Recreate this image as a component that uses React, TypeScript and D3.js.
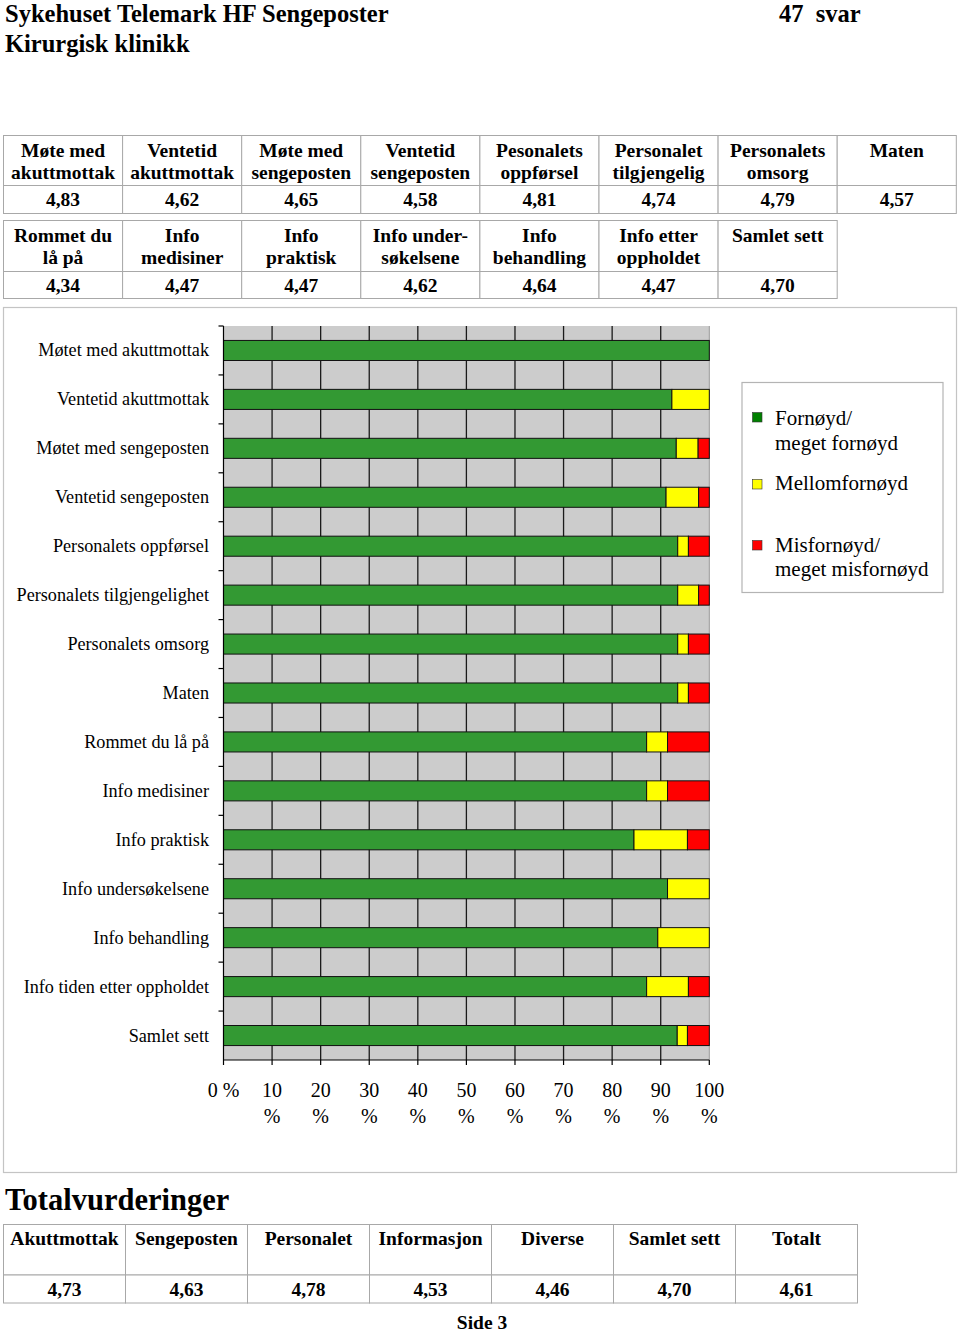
import React from "react";
import * as d3 from "d3";

const categories = [
  "Møtet med akuttmottak",
  "Ventetid akuttmottak",
  "Møtet med sengeposten",
  "Ventetid sengeposten",
  "Personalets oppførsel",
  "Personalets tilgjengelighet",
  "Personalets omsorg",
  "Maten",
  "Rommet du lå på",
  "Info medisiner",
  "Info praktisk",
  "Info undersøkelsene",
  "Info behandling",
  "Info tiden etter oppholdet",
  "Samlet sett",
];
const fornoyd = [100, 92.3, 93.2, 91.1, 93.5, 93.5, 93.5, 93.5, 87.1, 87.1, 84.5, 91.4, 89.4, 87.1, 93.4];
const mellom = [0, 7.7, 4.5, 6.7, 2.2, 4.3, 2.2, 2.2, 4.3, 4.3, 11.0, 8.6, 10.6, 8.6, 2.1];
const misfornoyd = [0, 0, 2.3, 2.2, 4.3, 2.2, 4.3, 4.3, 8.6, 8.6, 4.5, 0, 0, 4.3, 4.5];

const xTicks = [0, 10, 20, 30, 40, 50, 60, 70, 80, 90, 100];

const legendLabels = [["Fornøyd/", "meget fornøyd"], ["Mellomfornøyd"], ["Misfornøyd/", "meget misfornøyd"]];
const seriesColors = ["#339933", "#ffff00", "#ff0000"];
const legendColors = ["#008000", "#ffff00", "#ff0000"];

const table1Headers = [
  ["Møte med", "akuttmottak"],
  ["Ventetid", "akuttmottak"],
  ["Møte med", "sengeposten"],
  ["Ventetid", "sengeposten"],
  ["Pesonalets", "oppførsel"],
  ["Personalet", "tilgjengelig"],
  ["Personalets", "omsorg"],
  ["Maten"],
];
const table1Values = ["4,83", "4,62", "4,65", "4,58", "4,81", "4,74", "4,79", "4,57"];
const table2Headers = [
  ["Rommet du", "lå på"],
  ["Info", "medisiner"],
  ["Info", "praktisk"],
  ["Info under-", "søkelsene"],
  ["Info", "behandling"],
  ["Info etter", "oppholdet"],
  ["Samlet sett"],
];
const table2Values = ["4,34", "4,47", "4,47", "4,62", "4,64", "4,47", "4,70"];
const totalHeaders = ["Akuttmottak", "Sengeposten", "Personalet", "Informasjon", "Diverse", "Samlet sett", "Totalt"];
const totalValues = ["4,73", "4,63", "4,78", "4,53", "4,46", "4,70", "4,61"];

const SERIF = "'Liberation Serif', 'Times New Roman', serif";

function Table({ x0, colW, y0, headH, valH, headers, values, headBase, lineGap, valBase, border }: any) {
  return (
    <g>
      {headers.map((h: string[], i: number) => {
        const x = x0 + i * colW;
        return (
          <g key={i}>
            <rect x={x} y={y0} width={colW} height={headH} fill="#fff" stroke={border} strokeWidth={1} />
            <rect x={x} y={y0 + headH} width={colW} height={valH} fill="#fff" stroke={border} strokeWidth={1} />
            {h.map((line, j) => (
              <text key={j} x={x + colW / 2} y={y0 + headBase + j * lineGap} textAnchor="middle"
                fontFamily={SERIF} fontWeight="bold" fontSize={19.5}>{line}</text>
            ))}
            <text x={x + colW / 2} y={y0 + headH + valBase} textAnchor="middle"
              fontFamily={SERIF} fontWeight="bold" fontSize={19.5}>{values[i]}</text>
          </g>
        );
      })}
    </g>
  );
}

export default function App() {
  const plotLeft = 223.5, plotRight = 709.3, plotTop = 326, plotBottom = 1060;
  const x = d3.scaleLinear().domain([0, 100]).range([plotLeft, plotRight]);
  const y = d3.scaleBand<string>().domain(categories).range([plotTop, plotBottom]).paddingInner(0.59).paddingOuter(0.295);
  const step = y.step();
  const stack = d3.stack<any>().keys(["g", "y", "r"])(
    categories.map((c, i) => ({ c, g: fornoyd[i], y: mellom[i], r: misfornoyd[i] }))
  );

  return (
    <svg width={960} height={1334} style={{ position: "absolute", left: 0, top: 0, background: "#fff" }}>
      {/* Titles */}
      <text x={5} y={21.5} fontFamily={SERIF} fontWeight="bold" fontSize={24.5}>Sykehuset Telemark HF Sengeposter</text>
      <text x={779} y={21.5} fontFamily={SERIF} fontWeight="bold" fontSize={24.5} style={{ whiteSpace: "pre" }}>{"47  svar"}</text>
      <text x={5} y={52} fontFamily={SERIF} fontWeight="bold" fontSize={24.5}>Kirurgisk klinikk</text>

      {/* Top tables */}
      <Table x0={3.5} colW={119.1} y0={135.5} headH={50} valH={28} headers={table1Headers} values={table1Values}
        headBase={21.5} lineGap={22} valBase={20} border="#a8a8a8" />
      <Table x0={3.5} colW={119.1} y0={220.5} headH={51} valH={27} headers={table2Headers} values={table2Values}
        headBase={21.5} lineGap={22} valBase={20} border="#a8a8a8" />

      {/* Chart frame */}
      <rect x={3.5} y={307.5} width={953} height={865} fill="#fff" stroke="#c4c4c4" strokeWidth={1.2} />

      {/* Plot background */}
      <rect x={plotLeft} y={plotTop} width={plotRight - plotLeft} height={plotBottom - plotTop} fill="#cccccc" />
      <line x1={plotRight} x2={plotRight} y1={plotTop} y2={plotBottom} stroke="#999" strokeWidth={1} />
      {xTicks.slice(1, -1).map((t) => (
        <line key={t} x1={x(t)} x2={x(t)} y1={plotTop} y2={plotBottom} stroke="#1a1a1a" strokeWidth={1.3} />
      ))}

      {/* Bars */}
      {stack.map((s, si) => (
        <g key={si}>
          {s.map((d: any, i: number) => {
            const w = x(d[1]) - x(d[0]);
            if (w <= 0) return null;
            return (
              <rect key={i} x={x(d[0])} y={y(categories[i])!} width={w} height={y.bandwidth()}
                fill={seriesColors[si]} stroke="#111" strokeWidth={1} />
            );
          })}
        </g>
      ))}

      {/* Left axis */}
      <line x1={plotLeft} x2={plotLeft} y1={plotTop} y2={plotBottom} stroke="#000" strokeWidth={1.2} />
      {categories.map((c, i) => (
        <line key={"t" + i} x1={plotLeft - 5} x2={plotLeft} y1={plotTop + i * step} y2={plotTop + i * step} stroke="#000" strokeWidth={1.2} />
      ))}
      {categories.map((c) => (
        <text key={c} x={209} y={y(c)! + y.bandwidth() / 2 + 6} textAnchor="end" fontFamily={SERIF} fontSize={18.2}>{c}</text>
      ))}

      {/* Bottom axis */}
      <line x1={plotLeft} x2={plotRight} y1={plotBottom} y2={plotBottom} stroke="#000" strokeWidth={1.2} />
      {xTicks.map((t) => (
        <g key={t}>
          <line x1={x(t)} x2={x(t)} y1={plotBottom} y2={plotBottom + 5} stroke="#000" strokeWidth={1.2} />
          {t === 0 ? (
            <text x={x(t)} y={1097} textAnchor="middle" fontFamily={SERIF} fontSize={20}>0 %</text>
          ) : (
            <>
              <text x={x(t)} y={1097} textAnchor="middle" fontFamily={SERIF} fontSize={20}>{t}</text>
              <text x={x(t)} y={1123} textAnchor="middle" fontFamily={SERIF} fontSize={20}>%</text>
            </>
          )}
        </g>
      ))}

      {/* Legend */}
      <rect x={742} y={382.5} width={201} height={210} fill="#fff" stroke="#b4b4b4" strokeWidth={1.2} />
      {[0, 1, 2].map((i) => {
        const sqY = [412.5, 479.5, 540.5][i];
        const baseY = [425, 489.5, 551.5][i];
        return (
          <g key={i}>
            <rect x={752.5} y={sqY} width={9.5} height={9.5} fill={legendColors[i]} stroke="#333" strokeWidth={0.6} />
            {legendLabels[i].map((l, j) => (
              <text key={j} x={775} y={baseY + j * 24.5} fontFamily={SERIF} fontSize={21}>{l}</text>
            ))}
          </g>
        );
      })}

      {/* Totalvurderinger */}
      <text x={5} y={1210} fontFamily={SERIF} fontWeight="bold" fontSize={30.5}>Totalvurderinger</text>
      <Table x0={3.5} colW={122} y0={1224.5} headH={50.5} valH={28} headers={totalHeaders.map((h) => [h])} values={totalValues}
        headBase={20.5} lineGap={22} valBase={21} border="#a8a8a8" />

      <text x={482} y={1329} textAnchor="middle" fontFamily={SERIF} fontWeight="bold" fontSize={19.5}>Side 3</text>
    </svg>
  );
}
